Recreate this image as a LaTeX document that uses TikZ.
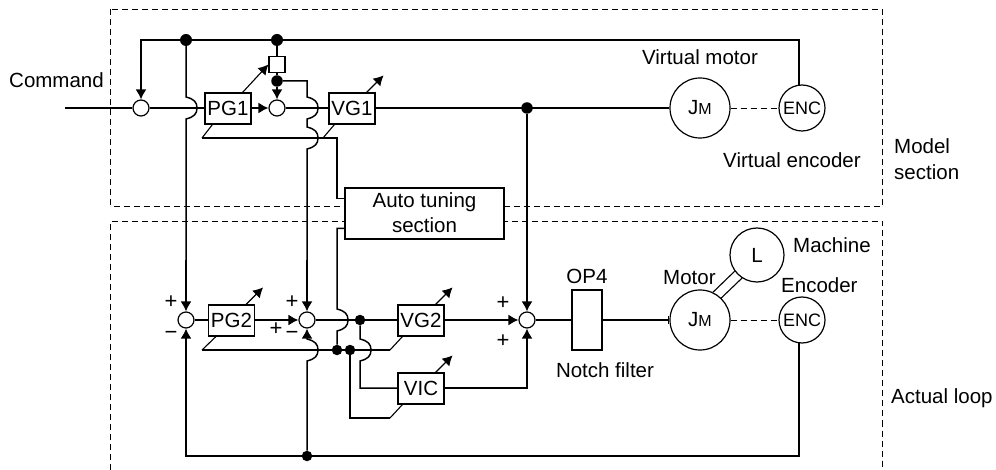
\documentclass[tikz,border=0pt]{standalone}
\usepackage{fontspec}
\setmainfont{Liberation Sans}
\usetikzlibrary{arrows.meta,positioning}
\newcommand{\hop}{.. controls +(8,2) and +(0,-6) .. ++(11,11) .. controls +(0,6) and +(8,-2) .. ++(-11,11)}

\begin{document}
\begin{tikzpicture}[
    x=1pt,y=-1pt,
    every node/.style={font=\fontsize{20.5}{24}\selectfont},
    txt/.style={inner sep=0pt,anchor=base west},
    txtc/.style={inner sep=0pt,anchor=base},
    sign/.style={inner sep=0pt,font=\fontsize{22}{24}\selectfont},
    section/.style={line width=0.8pt,dash pattern=on 6pt off 4pt},
    gainbox/.style={rectangle,draw,fill=white,line width=1.2pt,inner sep=0pt,minimum width=46pt,minimum height=31pt},
    sumnode/.style={circle,draw,fill=white,line width=1.2pt,inner sep=0pt,minimum size=16pt},
    dot/.style={circle,fill=black,inner sep=0pt,minimum size=10.5pt},
    motor/.style={circle,draw,fill=white,line width=1.2pt,inner sep=0pt,minimum size=60pt},
    enc/.style={circle,draw,fill=white,line width=1.2pt,inner sep=0pt,minimum size=46pt,font=\fontsize{18}{20}\selectfont},
    wire/.style={line width=1.5pt},
    arrow/.style={-{Latex[length=10pt,width=11pt]},line width=1.5pt},
    backarrow/.style={{Latex[length=10pt,width=11pt]}-,line width=1.5pt},
    gain/.style={-{Latex[length=10pt,width=11pt]},line width=1.1pt},
    foot/.style={line width=1.1pt},
    shaft/.style={line width=1.1pt},
    coupling/.style={line width=0.9pt,dash pattern=on 6pt off 4pt}
  ]
    \useasboundingbox (0,0) rectangle (996,470);

    % section frames
    \draw[section] (110.5,9.5) rectangle (882,206.5);
    \draw[section] (110.5,470) -- (110.5,221) -- (882,221) -- (882,470);

    % model section
    \coordinate (cmdstart) at (65,108);
    \node[sumnode] (suma) at (141,108) {};
    \node[gainbox] (pga) at (228,108.5) {PG1};
    \node[sumnode] (sumb) at (277,108) {};
    \node[gainbox] (vga) at (352,108.5) {VG1};
    \node[motor] (jma) at (700,108) {J{\fontsize{16}{18}\selectfont M}};
    \node[enc] (enca) at (802,108) {ENC};
    \node[dot,minimum size=12pt] (dota) at (186,40) {};
    \node[dot,minimum size=12pt] (dotb) at (277,40) {};
    \node[rectangle,draw,fill=white,line width=1.2pt,minimum size=16pt,inner sep=0pt] (limit) at (277,64.5) {};
    \node[dot,minimum size=11.5pt] (dotc) at (277,81) {};
    \node[dot,minimum size=11.5pt] (dotd) at (527,108) {};
    \coordinate (topl) at (141,40);
    \coordinate (pgafoot) at (202,138);
    \coordinate (vgafoot) at (323,138);

    % actual loop
    \node[sumnode] (sumc) at (186,320) {};
    \node[gainbox] (pgb) at (231.5,320.5) {PG2};
    \node[sumnode] (sumd) at (307,320) {};
    \node[dot] (dote) at (360,320) {};
    \node[gainbox] (vgb) at (421,320.5) {VG2};
    \node[gainbox] (vic) at (421,388.5) {VIC};
    \node[sumnode] (sume) at (527,320) {};
    \node[rectangle,draw,fill=white,line width=1.2pt,inner sep=0pt,minimum width=30pt,minimum height=60pt] (notch) at (587,320) {};
    \node[motor] (jmb) at (700,320) {J{\fontsize{16}{18}\selectfont M}};
    \node[motor,minimum size=54pt] (load) at (757,255) {L};
    \node[enc] (encb) at (802,320) {ENC};
    \node[rectangle,draw,fill=white,line width=1.2pt,inner sep=0pt,minimum width=159pt,minimum height=51pt,align=center] (tune) at (424.5,213.5) {};
    \node[dot] (dotf) at (337,350) {};
    \node[dot] (dotg) at (350,350) {};
    \node[dot] (doth) at (307,456) {};
    \coordinate (pgbfoot) at (202,350);
    \coordinate (vgbfoot) at (390,350);
    \coordinate (vicfoot) at (390,418);

    % labels
    \node[txt] (cmdtext) at (9,88) {Command};
    \node[txtc] (vmtext) at (700,65) {Virtual motor};
    \node[txt] (vetext) at (723,168) {Virtual encoder};
    \node[txt] (modeltext) at (894,154) {Model};
    \node[txt] (modeltextb) at (894,180) {section};
    \node[txtc] (tunetext) at (424.5,208) {Auto tuning};
    \node[txtc] (tunetextb) at (424.5,233) {section};
    \node[txt] (machtext) at (793,253) {Machine};
    \node[txt] (enctext) at (781,293) {Encoder};
    \node[txt] (looptext) at (891,403) {Actual loop};
    \node[txt] (mottext) at (663,285) {Motor};
    \node[txtc] (optext) at (587,284) {OP4};
    \node[txtc] (notchtext) at (605,377) {Notch filter};
    \node[sign] (pa) at (171,302) {+};
    \node[sign] (ma) at (171,335) {−};
    \node[sign] (pb) at (292,302) {+};
    \node[sign] (pc) at (276,329) {+};
    \node[sign] (mb) at (292,335) {−};
    \node[sign] (pd) at (503,303) {+};
    \node[sign] (pe) at (503,341) {+};

    % model section connections
    \draw[wire] (cmdstart) -- (suma);
    \draw[wire] (suma) -- (pga.west |- suma);
    \draw[arrow] (pga.east |- sumb) -- (sumb);
    \draw[wire] (sumb) -- (vga.west |- sumb);
    \draw[wire] (vga.east |- jma) -- (jma);
    \draw[arrow] (enca.97) |- (topl) -- (suma);
    \draw[wire] (dota) -- (186,97) \hop -- (186,260);
    \draw[arrow] (186,260) -- (sumc);
    \draw[wire] (dotb) -- (limit);
    \draw[wire] (limit) -- (dotc);
    \draw[arrow] (dotc) -- (sumb);
    \draw[wire] (dotc) -| (307,97) \hop -- (307,127) \hop -- (307,260);
    \draw[arrow] (307,260) -- (sumd);
    \draw[arrow] (dotd) -- (sume);
    \draw[coupling] (jma) -- (enca);
    \draw[gain] ([xshift=-9pt]pga.north east) -- (limit.west);
    \draw[foot] ([xshift=8pt]pga.south west) -- (pgafoot);
    \draw[foot] ([xshift=6pt]vga.south west) -- (vgafoot);
    \draw[wire] (pgafoot) -| (337,198.5) -- ([yshift=15pt]tune.west);

    % actual loop connections
    \draw[wire] (sumc) -- (pgb.west |- sumc);
    \draw[arrow] (pgb.east |- sumd) -- (sumd);
    \draw[wire] (sumd) -- (vgb.west |- sumd);
    \draw[arrow] (vgb.east |- sume) -- (sume);
    \draw[wire] (sume) -- (notch);
    \draw[wire,-{Bar[width=8pt,line width=1pt]}] (notch) -- (jmb);
    \draw[arrow] (vic.east |- 0,388) -| (sume);
    \draw[coupling] (jmb) -- (encb);
    \draw[shaft] (jmb.65) -- (load.216);
    \draw[shaft] (jmb.46) -- (load.237);
    \draw[wire] ([yshift=-15pt]tune.west) -| (337,309) \hop -- (dotf);
    \draw[wire] (pgbfoot) -- (vgbfoot);
    \draw[wire] (dotg) |- (vicfoot);
    \draw[wire] (dote) -- (360,339) \hop -- (360,388) -- (vic.west |- 0,388);
    \draw[foot] (vgbfoot) -- ([xshift=5pt]vgb.south west);
    \draw[foot] (vicfoot) -- ([xshift=5pt]vic.south west);
    \draw[foot] ([xshift=8pt]pgb.south west) -- (pgbfoot);
    \draw[wire] (encb.263) |- (doth);
    \draw[arrow] (doth) -| (sumc);
    \draw[backarrow] (sumd) -- (307,339) \hop -- (doth);

    % adjustable gains
    \foreach \name in {vga,pgb,vgb,vic}
      \draw[gain] ([xshift=-9pt]\name.north east) -- ++(17,-17);
  \end{tikzpicture}
\end{document}
